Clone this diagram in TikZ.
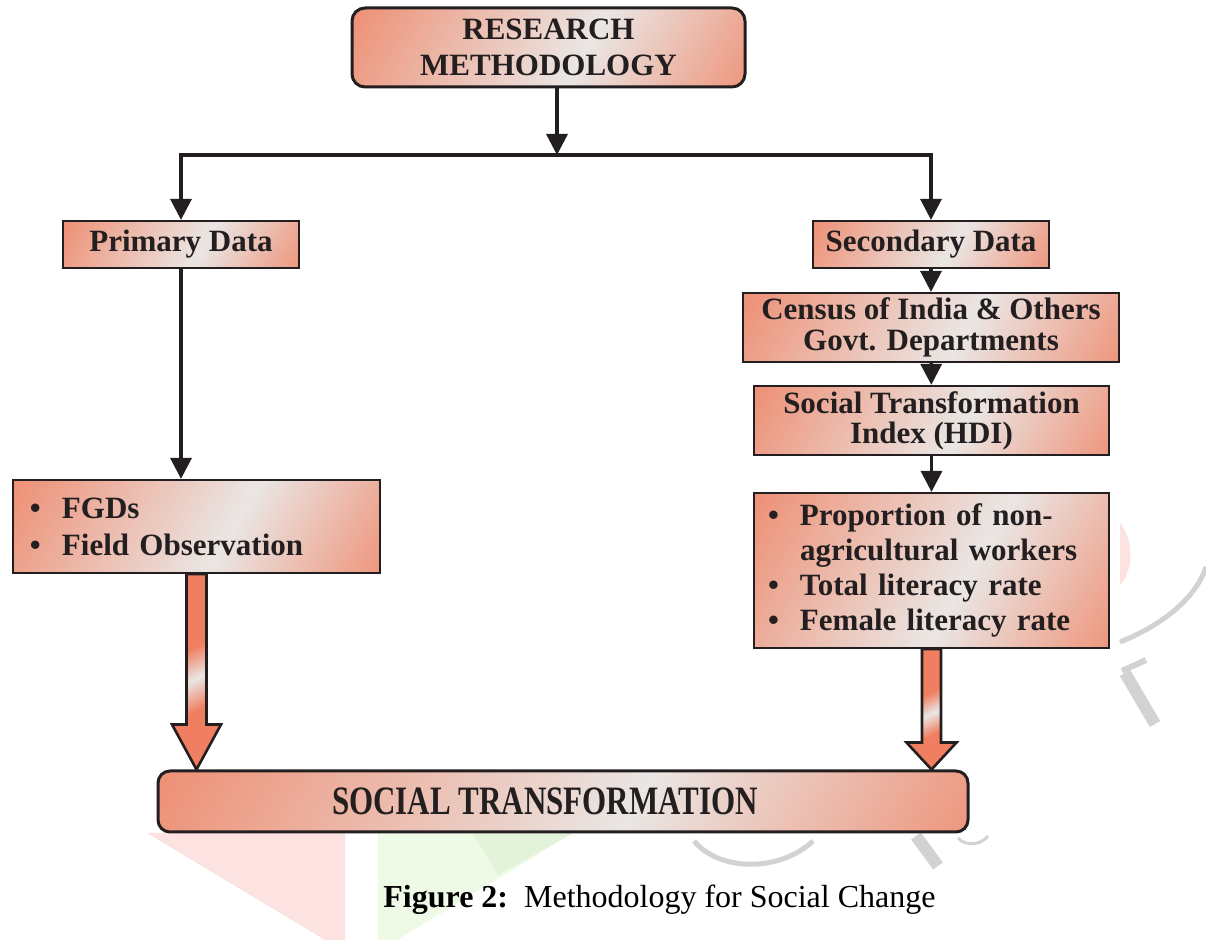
\documentclass[tikz,border=0pt]{standalone}
\usepackage{fontspec}
\setmainfont{Liberation Serif}
\usetikzlibrary{arrows.meta,calc}
\definecolor{saumon}{RGB}{238,140,112}
\definecolor{clair}{RGB}{234,230,228}
\definecolor{fleche}{RGB}{240,126,96}
\definecolor{trait}{RGB}{35,31,32}
\definecolor{wmrose}{RGB}{253,226,226}
\definecolor{wmvert}{RGB}{238,249,230}
\definecolor{wmvert2}{RGB}{226,243,217}
\definecolor{wmgris}{RGB}{210,210,210}
% degrades des boites et des grosses fleches
\pgfdeclareverticalshading{degrade}{100bp}{color(0bp)=(saumon); color(12bp)=(saumon);
  color(44bp)=(clair); color(86bp)=(saumon); color(100bp)=(saumon)}
\pgfdeclareverticalshading{reflet}{100bp}{color(0bp)=(fleche); color(38bp)=(fleche);
  color(48bp)=(clair); color(58bp)=(fleche); color(100bp)=(fleche)}
\newcommand\gros[1]{\fontsize{15.5}{#1}\selectfont\bfseries}
\newcommand\puce{\makebox[16pt][l]{\textbullet}}
\newcommand\sanspuce{\hspace*{16pt}}
\tikzset{
  boite/.style={draw=trait, line width=1.1pt, shade, shading=degrade, shading angle=60,
    text=trait, align=center, inner sep=0pt},
  arrondi/.style={boite, rounded corners=6.5pt, line width=1.5pt},
  lien/.style={draw=trait, line width=1.7pt, -{Triangle[width=10.5pt,length=10.5pt]}},
  grosse/.style={draw=trait, line width=1.3pt, shade, shading=reflet, shading angle=26, line join=miter},
}
% fleche epaisse : #1 depart, #2 pointe, #3 longueur de la tete, #4 demi-largeur tete, #5 demi-largeur corps
\newcommand\grossefleche[5]{%
  \path[grosse] ($(#1)+(-#5,0)$) -- ($(#2)+(-#5,-#3)$) -- ($(#2)+(-#4,-#3)$) -- (#2)
    -- ($(#2)+(#4,-#3)$) -- ($(#2)+(#5,-#3)$) -- ($(#1)+(#5,0)$) -- cycle;}
\begin{document}
\begin{tikzpicture}[x=0.5pt,y=-0.5pt]
\useasboundingbox (0,0) rectangle (1206,940);
% filigrane en fond
\fill[wmrose] (147,833) -- (345,833) -- (345,940) -- (325,940) -- cycle;
\fill[wmvert] (378,833) -- (573,833) -- (397,940) -- (378,940) -- cycle;
\fill[wmvert2] (473,833) -- (573,833) -- (498,875) -- cycle;
\draw[wmgris,line width=2.5pt] (694,841) .. controls (720,872) and (780,872) .. (813,841);
\draw[wmgris,line width=6pt] (916,836) -- (938,866);
\draw[wmgris,line width=1.5pt] (958,838) .. controls (965,846) and (980,846) .. (988,836);
\fill[wmrose] (1120,523) .. controls (1134,540) and (1134,570) .. (1120,585) -- cycle;
\draw[wmgris,line width=2.5pt] (1120,642) .. controls (1160,626) and (1195,600) .. (1206,567);
\draw[wmgris,line width=3pt] (1122,671) -- (1146,660);
\draw[wmgris,line width=6pt] (1125,673) -- (1155,724);
% boites
\node[arrondi, minimum width=196.5pt, minimum height=39.5pt, font=\gros{17.75}] (rm) at (548.5,47.5) {RESEARCH\\METHODOLOGY};
\node[boite, minimum width=118pt, minimum height=23.5pt, font=\gros{17}] (pd) at (181,244.5) {Primary Data};
\node[boite, minimum width=118pt, minimum height=23.5pt, font=\gros{17}] (sd) at (931,244.5) {Secondary Data};
\node[boite, minimum width=188pt, minimum height=34.5pt, font=\gros{15.5}] (census) at (931,327.5) {Census of India \& Others\\Govt. Departments};
\node[boite, minimum width=177.5pt, minimum height=34.5pt, font=\gros{15}] (sti) at (931.5,420.5) {Social Transformation\\Index (HDI)};
\node[boite, minimum width=183.5pt, minimum height=46.5pt, text width=166.5pt, align=left, font=\gros{18.5}] (fgd) at (196.5,526.5)
  {\puce FGDs\\\puce Field Observation};
\node[boite, minimum width=177.5pt, minimum height=77.5pt, text width=163.5pt, align=left, font=\gros{17.5}] (ind) at (931.5,570.5)
  {\puce Proportion of non-\\\sanspuce agricultural workers\\\puce Total literacy rate\\\puce Female literacy rate};
\node[arrondi, rounded corners=6pt, minimum width=405pt, minimum height=30.5pt, font=\gros{17}] (social) at (563,801.5)
  {\hspace*{-18pt}\scalebox{1}[1.3]{SOCIAL TRANSFORMATION}};
% fleches
\coordinate (split) at (557,155);
\draw[lien] (split |- rm.south) -- (split);
\draw[lien] (split) -| (pd.north);
\draw[lien] (split) -| (sd.north);
\draw[lien] (pd.south) -- (pd.south |- fgd.north);
\draw[lien] (sd) -- (census);
\draw[lien] (census) -- (sti);
\draw[lien] (sti) -- (ind);
\coordinate (gtip) at (fgd.south |- social.north);
\coordinate (dtip) at (ind.south |- social.north);
\grossefleche{fgd.south}{gtip}{45}{24.5}{10}
\grossefleche{ind.south}{dtip}{27}{25}{9.5}
% legende
\node[anchor=base west, inner sep=0pt, font=\fontsize{16}{19}\selectfont] (legende) at (383,907)
  {\textbf{Figure 2:}\hspace{0.5em}Methodology for Social Change};
\end{tikzpicture}
\end{document}
